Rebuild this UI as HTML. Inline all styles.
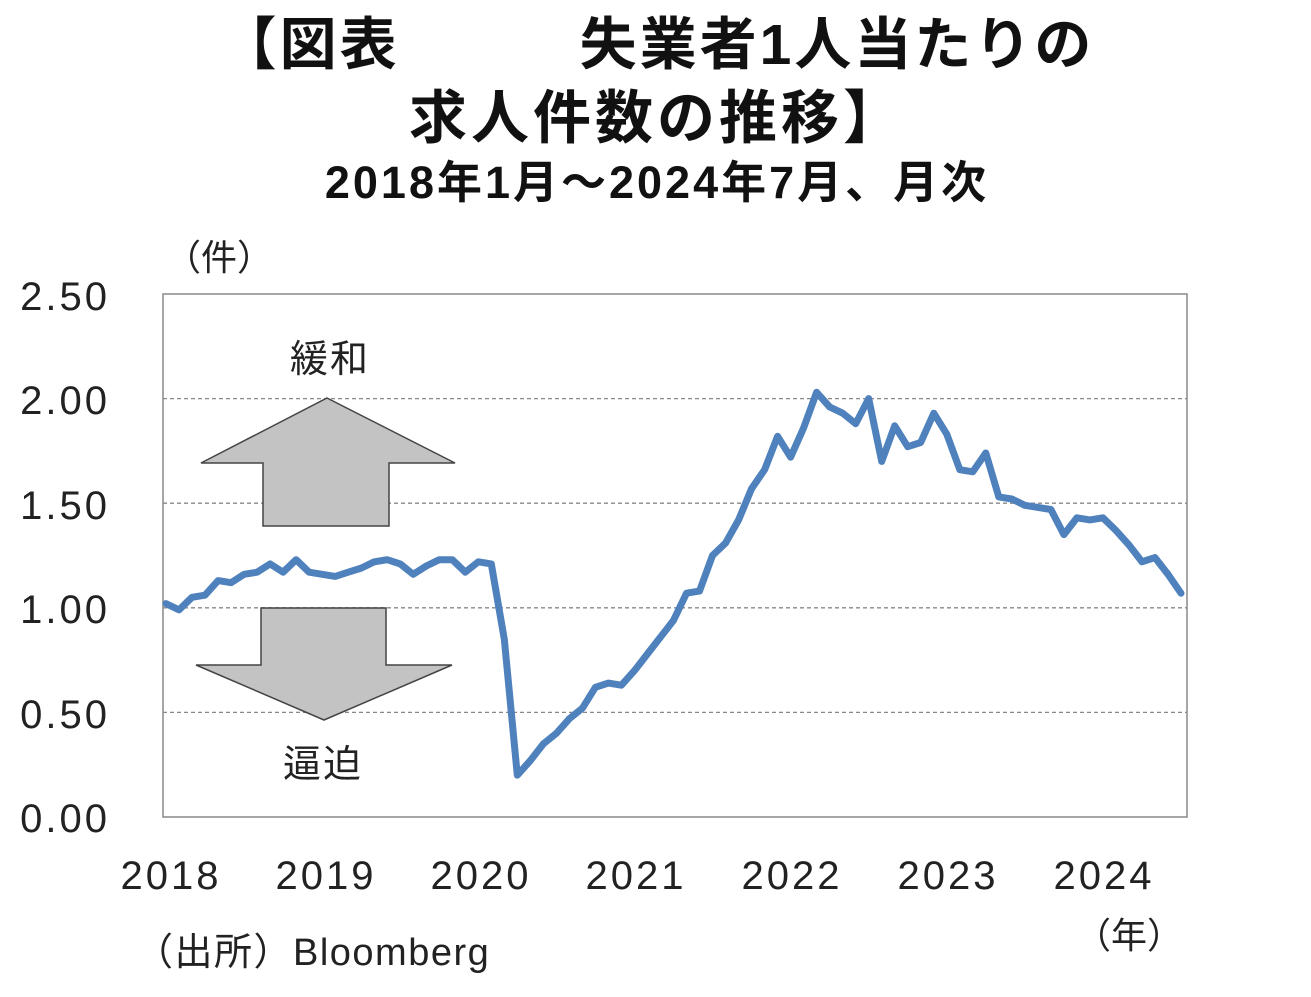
<!DOCTYPE html>
<html><head><meta charset="utf-8"><style>
html,body{margin:0;padding:0;background:#fff;}
svg{display:block;}
text{font-family:"Liberation Sans","Noto Sans CJK JP",sans-serif;}
</style></head><body>
<svg width="1311" height="997" viewBox="0 0 1311 997" xmlns="http://www.w3.org/2000/svg">
<rect width="1311" height="997" fill="#fff"/>
<text x="657" y="64" text-anchor="middle" font-size="57" font-weight="bold" fill="#111" letter-spacing="3">【図表　　　失業者1人当たりの</text>
<text x="657" y="138" text-anchor="middle" font-size="58" font-weight="bold" fill="#111" letter-spacing="4">求人件数の推移】</text>
<text x="657" y="198" text-anchor="middle" font-size="45" font-weight="bold" fill="#111" letter-spacing="3">2018年1月～2024年7月、月次</text>
<text x="165" y="270" font-size="36" fill="#222">（件）</text>
<rect x="163" y="294" width="1024" height="523" fill="none" stroke="#888" stroke-width="1.5"/>
<g stroke="#888" stroke-width="1.3" stroke-dasharray="4,3">
<line x1="163" x2="1187" y1="398.6" y2="398.6"/>
<line x1="163" x2="1187" y1="503.2" y2="503.2"/>
<line x1="163" x2="1187" y1="607.8" y2="607.8"/>
<line x1="163" x2="1187" y1="712.4" y2="712.4"/>
</g>
<g font-size="40" fill="#222" text-anchor="end" letter-spacing="3">
<text x="110" y="310">2.50</text>
<text x="110" y="414">2.00</text>
<text x="110" y="519">1.50</text>
<text x="110" y="623">1.00</text>
<text x="110" y="728">0.50</text>
<text x="110" y="832">0.00</text>
</g>
<g font-size="40" fill="#222" text-anchor="middle" letter-spacing="3">
<text x="171" y="889">2018</text>
<text x="326" y="889">2019</text>
<text x="481" y="889">2020</text>
<text x="636" y="889">2021</text>
<text x="792" y="889">2022</text>
<text x="948" y="889">2023</text>
<text x="1104" y="889">2024</text>
</g>
<text x="1075" y="948" font-size="36" fill="#222">（年）</text>
<text x="135" y="965" font-size="38" fill="#222" letter-spacing="1.5">（出所）Bloomberg</text>
<polygon points="327,398 455,463 389,463 389,526 263,526 263,463 201,463" fill="#c3c3c3" stroke="#444" stroke-width="1.5"/>
<polygon points="261,608 386,608 386,665 452,665 324,720 196,665 261,665" fill="#c3c3c3" stroke="#444" stroke-width="1.5"/>
<text x="330" y="372" font-size="38" fill="#222" text-anchor="middle" letter-spacing="2">緩和</text>
<text x="323" y="777" font-size="38" fill="#222" text-anchor="middle" letter-spacing="2">逼迫</text>
<polyline fill="none" stroke="#4f81bd" stroke-width="7" stroke-linejoin="round" stroke-linecap="round" points="166.0,603.6 179.0,609.9 192.0,597.3 205.0,595.2 218.1,580.6 231.1,582.7 244.1,574.3 257.1,572.2 270.1,563.9 283.1,572.2 296.1,559.7 309.1,572.2 322.2,574.3 335.2,576.4 348.2,572.2 361.2,568.1 374.2,561.8 387.2,559.7 400.2,563.9 413.2,574.3 426.3,566.0 439.3,559.7 452.3,559.7 465.3,572.2 478.3,561.8 491.3,563.9 504.3,639.2 517.3,775.2 530.4,760.5 543.4,743.8 556.4,733.3 569.4,718.7 582.4,708.2 595.4,687.3 608.4,683.1 621.4,685.2 634.5,670.6 647.5,653.8 660.5,637.1 673.5,620.4 686.5,593.2 699.5,591.1 712.5,555.5 725.6,543.0 738.6,519.9 751.6,488.6 764.6,469.7 777.6,436.3 790.6,457.2 803.6,427.9 816.6,392.3 829.7,407.0 842.7,413.2 855.7,423.7 868.7,398.6 881.7,461.4 894.7,425.8 907.7,446.7 920.7,442.5 933.8,413.2 946.8,434.2 959.8,469.7 972.8,471.8 985.8,453.0 998.8,496.9 1011.8,499.0 1024.8,505.3 1037.9,507.4 1050.9,509.5 1063.9,534.6 1076.9,517.8 1089.9,519.9 1102.9,517.8 1115.9,530.4 1129.0,545.0 1142.0,561.8 1155.0,557.6 1168.0,574.3 1181.0,593.2"/>
</svg>
</body></html>
